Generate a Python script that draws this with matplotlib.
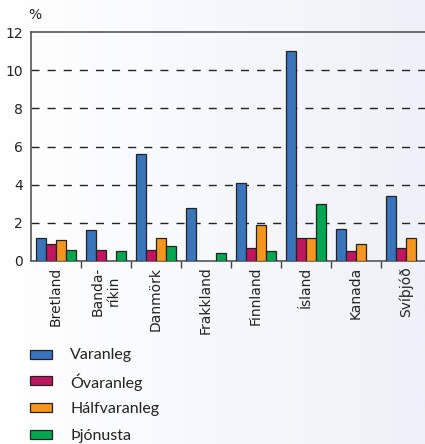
import numpy as np
import matplotlib.pyplot as plt
from matplotlib.patches import Rectangle
from matplotlib.colors import LinearSegmentedColormap

# Data (%)
countries = ['Bretland', 'Banda-\nríkin', 'Danmörk', 'Frakkland',
             'Finnland', 'Ísland', 'Kanada', 'Svíþjóð']
varanleg     = [1.2, 1.6, 5.6, 2.8, 4.1, 11.0, 1.7, 3.4]
ovaranleg    = [0.9, 0.6, 0.6, 0.0, 0.7, 1.2, 0.5, 0.7]
halfvaranleg = [1.1, 0.0, 1.2, 0.0, 1.9, 1.2, 0.9, 1.2]
thjonusta    = [0.6, 0.5, 0.8, 0.4, 0.5, 3.0, 0.0, 0.0]

series = ['Varanleg', 'Óvaranleg', 'Hálfvaranleg', 'Þjónusta']
colors = ['#3a74bb', '#c0155f', '#f7961e', '#00a650']
values = [varanleg, ovaranleg, halfvaranleg, thjonusta]

W, H = 425, 444
fig = plt.figure(figsize=(W / 100, H / 100), dpi=100)

# soft background gradient, white on the left to pale blue-grey on the right
bg = fig.add_axes([0, 0, 1, 1], zorder=-10)
grad = np.linspace(0, 1, 256).reshape(1, -1)
cmap = LinearSegmentedColormap.from_list('bg', ['#ffffff', '#eef1f7'])
bg.imshow(grad, aspect='auto', cmap=cmap, extent=[0, 1, 0, 1])
bg.axis('off')

ax = fig.add_axes([31/W, 1 - 261/H, 1 - 31/W, (261 - 32)/H])
ax.patch.set_alpha(0)

idx = np.arange(len(countries))
w = 0.2
for i, (name, vals, c) in enumerate(zip(series, values, colors)):
    v = np.array(vals)
    mask = v > 0
    ax.bar(idx[mask] + (i - 1.5) * w, v[mask], w, color=c,
           edgecolor='#222222', linewidth=0.9, zorder=3)

ax.set_ylim(0, 12)
ax.set_xlim(-0.5, 7.38)
ax.set_yticks([0, 2, 4, 6, 8, 10, 12])
ax.tick_params(axis='y', length=0, pad=6, labelsize=10, colors='#222222')
for y in [2, 4, 6, 8, 10]:
    ax.axhline(y, color='#222222', lw=1, ls=(0, (5.8, 5.8)), zorder=1)

ax.set_xticks(idx)
ax.set_xticklabels(countries, rotation=90, fontsize=10, color='#222222',
                   va='top', ha='center')
ax.tick_params(axis='x', which='major', length=0, pad=4)
ax.set_xticks(idx[:-1] + 0.5, minor=True)
ax.tick_params(axis='x', which='minor', length=5, width=1, color='#444444')

for s in ['left', 'bottom', 'top']:
    ax.spines[s].set_color('#555555')
    ax.spines[s].set_linewidth(1.2)
ax.spines['right'].set_visible(False)

fig.text(28/W, 1 - 15/H, '%', fontsize=10, color='#222222',
         ha='left', va='center')

# legend laid out by hand, one row every ~27 px
row0, step = 354, 26.7
for i, (name, c) in enumerate(zip(series, colors)):
    yc = row0 + i * step
    fig.patches.append(Rectangle((30/W, 1 - (yc + 4.5)/H), 22/W, 9/H,
                                 transform=fig.transFigure, facecolor=c,
                                 edgecolor='#222222', linewidth=0.9))
    fig.text(70/W, 1 - yc/H, name, family='Lato', fontsize=11.5,
             color='#222222', ha='left', va='center_baseline')

fig.savefig('out.png', dpi=100)
